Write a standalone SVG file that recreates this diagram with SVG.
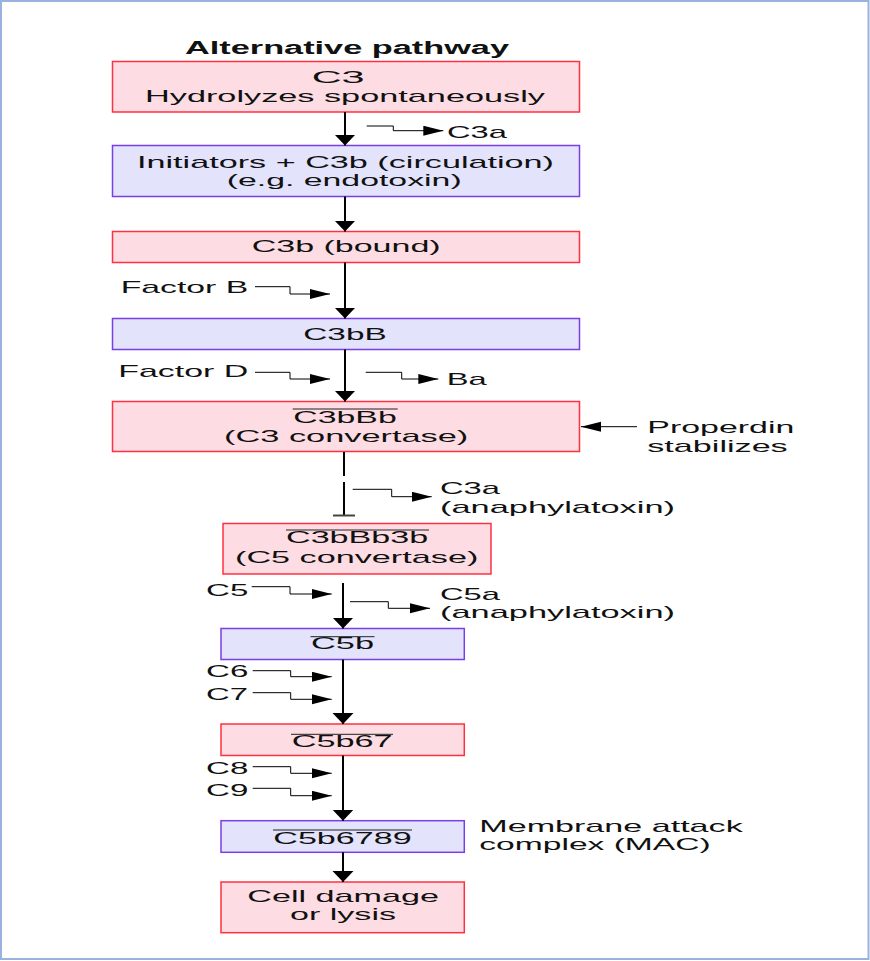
<svg xmlns="http://www.w3.org/2000/svg" width="870" height="961" viewBox="0 0 870 961">
<defs>
<style>
.t{font-family:"Liberation Sans",Arial,sans-serif;font-size:17px;fill:#111}
.b{font-weight:bold;font-size:17.5px}
.pk{fill:#fddde3;stroke:#ff3040;stroke-width:1.5}
.lv{fill:#e3e3fc;stroke:#7a3ee6;stroke-width:1.5}
.main{stroke:#000;stroke-width:2;fill:none;marker-end:url(#mh)}
.side{stroke:#000;stroke-width:1;fill:none;marker-end:url(#sh)}
.ov{stroke:#222;stroke-width:1}
</style>
<marker id="mh" markerUnits="userSpaceOnUse" markerWidth="12" markerHeight="22" refX="11" refY="10.5" orient="auto"><path d="M0,0 L11,10.5 L0,21 z" fill="#000"/></marker>
<marker id="sh" markerUnits="userSpaceOnUse" markerWidth="21" markerHeight="11" refX="20" refY="5" orient="auto"><path d="M0,0 L20,5 L0,10 z" fill="#000"/></marker>
</defs>
<rect x="0" y="0" width="870" height="961" fill="#fff"/>
<rect x="1" y="1" width="867.5" height="958" fill="none" stroke="#9ab2df" stroke-width="2"/>
<text class="t b" x="185" y="54" textLength="324" lengthAdjust="spacingAndGlyphs">Alternative pathway</text>
<g id="n1"><rect class="pk" x="112.5" y="61.5" width="467" height="50.5"/>
<text class="t" x="311.7" y="83.3" textLength="53" lengthAdjust="spacingAndGlyphs">C3</text>
<text class="t" x="145" y="101.5" textLength="400" lengthAdjust="spacingAndGlyphs">Hydrolyzes spontaneously</text></g>
<g id="n2"><rect class="lv" x="112.5" y="145.5" width="467" height="51"/>
<text class="t" x="137" y="168" textLength="417" lengthAdjust="spacingAndGlyphs">Initiators + C3b (circulation)</text>
<text class="t" x="226.7" y="186" textLength="235" lengthAdjust="spacingAndGlyphs">(e.g. endotoxin)</text></g>
<g id="n3"><rect class="pk" x="112.5" y="231.5" width="467" height="31"/>
<text class="t" x="251.7" y="252.3" textLength="189" lengthAdjust="spacingAndGlyphs">C3b (bound)</text></g>
<g id="n4"><rect class="lv" x="112.5" y="318.5" width="467" height="31"/>
<text class="t" x="303.3" y="340" textLength="83.4" lengthAdjust="spacingAndGlyphs">C3bB</text></g>
<g id="n5"><rect class="pk" x="112.5" y="401.5" width="467" height="50"/>
<line class="ov" x1="292.7" y1="409" x2="397.7" y2="409"/>
<text class="t" x="293.3" y="422.7" textLength="103.4" lengthAdjust="spacingAndGlyphs">C3bBb</text>
<text class="t" x="224" y="441.7" textLength="244.3" lengthAdjust="spacingAndGlyphs">(C3 convertase)</text></g>
<g id="n6"><rect class="pk" x="223" y="523.5" width="268" height="50.5"/>
<line class="ov" x1="286" y1="530" x2="429" y2="530"/>
<text class="t" x="286" y="542.7" textLength="142.3" lengthAdjust="spacingAndGlyphs">C3bBb3b</text>
<text class="t" x="235" y="563.3" textLength="243.3" lengthAdjust="spacingAndGlyphs">(C5 convertase)</text></g>
<g id="n7"><rect class="lv" x="221" y="628.5" width="243.3" height="31"/>
<line class="ov" x1="310.5" y1="636.7" x2="374.5" y2="636.7"/>
<text class="t" x="311" y="649.3" textLength="63" lengthAdjust="spacingAndGlyphs">C5b</text></g>
<g id="n8"><rect class="pk" x="221" y="724" width="243.3" height="31.5"/>
<line class="ov" x1="291" y1="734.3" x2="393" y2="734.3"/>
<text class="t" x="291.7" y="747.3" textLength="101" lengthAdjust="spacingAndGlyphs">C5b67</text></g>
<g id="n9"><rect class="lv" x="221" y="820.7" width="243.3" height="31.6"/>
<line class="ov" x1="273" y1="830" x2="412" y2="830"/>
<text class="t" x="273.3" y="844" textLength="138.4" lengthAdjust="spacingAndGlyphs">C5b6789</text></g>
<g id="n10"><rect class="pk" x="221" y="882" width="243.3" height="50.7"/>
<text class="t" x="247.3" y="902.3" textLength="191.7" lengthAdjust="spacingAndGlyphs">Cell damage</text>
<text class="t" x="290" y="920" textLength="106" lengthAdjust="spacingAndGlyphs">or lysis</text></g>
<g id="labels">
<text class="t" x="447" y="138" textLength="60" lengthAdjust="spacingAndGlyphs">C3a</text>
<text class="t" x="120.7" y="293.3" textLength="127.6" lengthAdjust="spacingAndGlyphs">Factor B</text>
<text class="t" x="118.3" y="376.7" textLength="130" lengthAdjust="spacingAndGlyphs">Factor D</text>
<text class="t" x="446.7" y="385" textLength="40" lengthAdjust="spacingAndGlyphs">Ba</text>
<text class="t" x="647.3" y="433.3" textLength="147" lengthAdjust="spacingAndGlyphs">Properdin</text>
<text class="t" x="647.3" y="452.3" textLength="140.4" lengthAdjust="spacingAndGlyphs">stabilizes</text>
<text class="t" x="440" y="494" textLength="60" lengthAdjust="spacingAndGlyphs">C3a</text>
<text class="t" x="440" y="512.7" textLength="235" lengthAdjust="spacingAndGlyphs">(anaphylatoxin)</text>
<text class="t" x="206" y="595.5" textLength="42.3" lengthAdjust="spacingAndGlyphs">C5</text>
<text class="t" x="440" y="599.5" textLength="60" lengthAdjust="spacingAndGlyphs">C5a</text>
<text class="t" x="440" y="618" textLength="235" lengthAdjust="spacingAndGlyphs">(anaphylatoxin)</text>
<text class="t" x="206" y="676.5" textLength="42.3" lengthAdjust="spacingAndGlyphs">C6</text>
<text class="t" x="206" y="699.5" textLength="42" lengthAdjust="spacingAndGlyphs">C7</text>
<text class="t" x="206" y="773.5" textLength="42.3" lengthAdjust="spacingAndGlyphs">C8</text>
<text class="t" x="206" y="795.5" textLength="42.3" lengthAdjust="spacingAndGlyphs">C9</text>
<text class="t" x="479.3" y="831.7" textLength="263.4" lengthAdjust="spacingAndGlyphs">Membrane attack</text>
<text class="t" x="479.3" y="850" textLength="231.4" lengthAdjust="spacingAndGlyphs">complex (MAC)</text>
</g>
<g id="connectors">
<path class="main" d="M345,112 V145.5"/>
<path class="main" d="M345,196.5 V231.5"/>
<path class="main" d="M345,262.5 V318.5"/>
<path class="main" d="M345,349.5 V401.5"/>
<path d="M344,452 V476 M344,482 V515" stroke="#000" stroke-width="2" fill="none"/>
<path d="M333,515.5 H355" stroke="#444" stroke-width="2"/>
<path class="main" d="M343,583 V628.5"/>
<path class="main" d="M343,659.5 V724"/>
<path class="main" d="M343,755.5 V820.7"/>
<path class="main" d="M343,852.3 V882"/>
<path class="side" d="M366.7,126 H393.3 V130.7 H443.3"/>
<path class="side" d="M255,286.7 H290 V294 H330"/>
<path class="side" d="M255,372.3 H290 V379 H330"/>
<path class="side" d="M365.7,372.3 H401.7 V379 H438.3"/>
<path class="side" d="M637,426.7 H581"/>
<path class="side" d="M352.7,489.3 H391.7 V496.7 H431.7"/>
<path class="side" d="M251.7,586.7 H290 V594 H331.7"/>
<path class="side" d="M350,601.7 H388.3 V608.3 H430"/>
<path class="side" d="M252.7,670.7 H290.7 V676.7 H331.7"/>
<path class="side" d="M252.7,692.7 H290.7 V699.3 H331.7"/>
<path class="side" d="M252.7,766.7 H290.7 V773.3 H331.7"/>
<path class="side" d="M252.7,788.3 H290.7 V795.7 H331.7"/>
</g>
</svg>
